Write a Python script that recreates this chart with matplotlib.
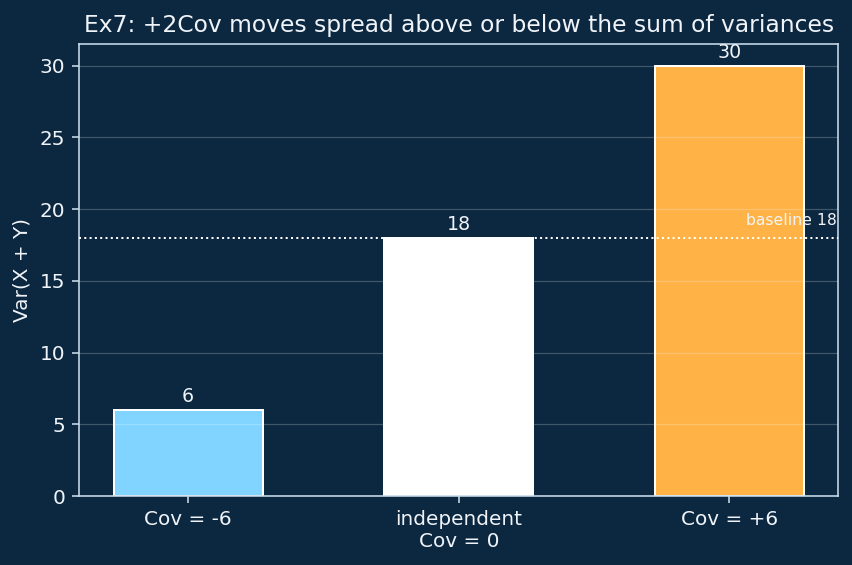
import matplotlib
matplotlib.use("Agg")
import matplotlib.pyplot as plt
import matplotlib.transforms as mtransforms

categories = ["Cov = -6", "independent\nCov = 0", "Cov = +6"]
values = [6, 18, 30]
colors = ["#80d4ff", "#ffffff", "#ffb347"]
baseline = 18

bg = "#0c2841"
fg = "#f0f4f8"
spine_c = "#c8dcea"

DPI = 144
fig, ax = plt.subplots(figsize=(852 / DPI, 565 / DPI), dpi=DPI)
fig.patch.set_facecolor(bg)
ax.set_facecolor(bg)

x = list(range(len(categories)))
bars = ax.bar(x, values, width=0.55, color=colors, edgecolor="white", linewidth=1.0, zorder=2)
for xi, v in zip(x, values):
    ax.annotate(str(v), (xi, v), xytext=(0, 2), textcoords="offset points",
                ha="center", va="bottom", color=fg, fontsize=9.5)

ax.axhline(baseline, color="white", linestyle=":", linewidth=1.0, zorder=4)
trans = mtransforms.blended_transform_factory(ax.transAxes, ax.transData)
ax.text(0.998, baseline + 0.7, f"baseline {baseline}", transform=trans,
        ha="right", va="bottom", color=fg, fontsize=7.8, zorder=5)

ax.set_xticks(x)
ax.set_xticklabels(categories)
ax.set_ylabel("Var(X + Y)", color=fg, fontsize=10)
ax.set_title("Ex7: +2Cov moves spread above or below the sum of variances", color=fg, fontsize=11.7)
ax.yaxis.grid(True, color="white", alpha=0.22, linewidth=0.6, zorder=3)
ax.set_axisbelow(False)
ax.tick_params(colors=spine_c, labelcolor=fg, labelsize=10)
for s in ax.spines.values():
    s.set_color(spine_c)

fig.subplots_adjust(left=0.093, right=0.984, top=0.922, bottom=0.122)
fig.savefig("out.png", dpi=DPI, facecolor=bg)
